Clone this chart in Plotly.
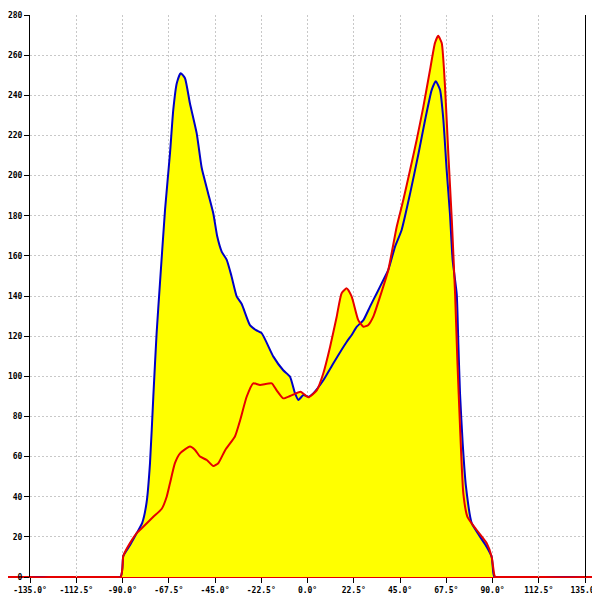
import plotly.graph_objects as go

# ---- data ----
blue_angle = [-135, -91, -89.6, -86.3, -83, -80.4, -78.3, -76.6, -75, -73.4, -71.8, -69.3, -66.9,
              -65.3, -63.6, -61.7, -59.6, -57.2, -53.9, -51.5, -48.3, -45.8, -43.9, -41.7, -39.3,
              -37, -34.4, -32, -28, -25, -22.3, -16.6, -11.8, -8.5, -6.1, -4.4, -2, 0.4, 2.8,
              7.7, 12.6, 19.1, 21.5, 24, 27.2, 30.4, 33.7, 36.9, 39.3, 42.6, 45.8, 49.9, 54,
              57.2, 60.4, 62.4, 64.5, 66.1, 67.7, 69.3, 70.6, 72.6, 73.4, 74.2, 75.5, 77.1,
              79.9, 84, 87.2, 89.6, 90.4, 91, 135]
blue_value = [0, 0, 10.5, 16, 22, 27, 37, 57, 90, 121.6, 146, 183, 211,
              232.7, 246, 251, 248.5, 236, 221, 204, 191, 181, 169.6, 162, 158,
              150, 139.7, 136, 125.5, 123, 121.5, 109.8, 103, 99.8, 91.6, 88.2, 90.7, 89.8, 91.5,
              98, 106.5, 117.2, 120.6, 124.7, 128, 134.7, 141.4, 148, 153, 164.6, 172.9, 191, 211,
              227.7, 242.6, 247, 242.6, 227.7, 202.8, 181, 158, 141, 116, 91.5, 66.6, 45,
              26.8, 20, 15, 10, 2, 0, 0]

red_angle = [-135, -91, -89.6, -86.3, -83, -79.9, -75, -70.9, -68.5, -66.9, -64.5, -62, -57.2,
             -54.7, -52.3, -49, -45.8, -43.4, -40, -35.3, -32.8, -29.6, -26.4, -23.1, -17.4,
             -15, -11.8, -8.5, -3.4, -1.8, 0.4, 4.5, 7.7, 11, 14.2, 16.6, 19.1, 21.5, 24.7,
             27.2, 29.6, 32, 35.3, 39.3, 43.4, 46.6, 49.9, 53.1, 56.3, 59.6, 62, 63.6, 65.3,
             66.9, 68.5, 70.2, 71.8, 72.9, 74.2, 75.8, 77.8, 82.3, 87.2, 89.6, 90.9, 91.5, 135]
red_value = [0, 0, 10.5, 17, 22, 25, 30, 34, 40, 46.7, 56.7, 61.6, 65,
             63.3, 60, 58.3, 55.3, 56.7, 63.3, 70, 78, 89.8, 96.5, 95.7, 96.5,
             93, 89, 90.2, 92.3, 91.2, 89.5, 93, 101.5, 114.7, 129.7, 141.4, 143.8, 139.7, 128,
             124.7, 125.6, 129.7, 139.7, 153, 174.5, 187.8, 202.8, 217.7, 234, 252.6, 266, 269.6, 266,
             244.3, 211, 178, 141, 108, 75, 41.7, 30, 23.4, 16.8, 10, 1, 0, 0]

x_tick_values = [-135, -112.5, -90, -67.5, -45, -22.5, 0, 22.5, 45, 67.5, 90, 112.5, 135]
x_tick_labels = ["-135.0°", "-112.5°", "-90.0°", "-67.5°", "-45.0°", "-22.5°", "0.0°",
                 "22.5°", "45.0°", "67.5°", "90.0°", "112.5°", "135.0°"]
y_tick_values = list(range(0, 281, 20))
y_tick_labels = [str(v) for v in y_tick_values]

YELLOW = "#ffff00"
BLUE = "#0000c8"
RED = "#e60000"

fig = go.Figure()
# yellow fills under both curves
fig.add_trace(go.Scatter(x=blue_angle, y=blue_value, mode="lines", fill="tozeroy",
                         fillcolor=YELLOW, line=dict(width=0, color=YELLOW, shape="spline", smoothing=0.5),
                         hoverinfo="skip"))
fig.add_trace(go.Scatter(x=red_angle, y=red_value, mode="lines", fill="tozeroy",
                         fillcolor=YELLOW, line=dict(width=0, color=YELLOW, shape="spline", smoothing=0.5),
                         hoverinfo="skip"))
# outlines
fig.add_trace(go.Scatter(x=blue_angle, y=blue_value, mode="lines",
                         line=dict(width=2, color=BLUE, shape="spline", smoothing=0.5)))
fig.add_trace(go.Scatter(x=red_angle, y=red_value, mode="lines",
                         line=dict(width=2, color=RED, shape="spline", smoothing=0.5)))

# baseline of the red series continuing past the axes
fig.add_shape(type="line", xref="paper", yref="paper", x0=-22 / 555, x1=1 + 15 / 555,
              y0=0, y1=0, line=dict(color=RED, width=2), layer="below")

tick_font = dict(family="DejaVu Sans Mono", size=8, color="black", weight="bold")

# the page body adds an 8px offset, so the figure is 592x592
fig.update_layout(
    width=592, height=592,
    margin=dict(l=22, r=15, t=7, b=23, autoexpand=False),
    paper_bgcolor="white", plot_bgcolor="white",
    showlegend=False,
    xaxis=dict(range=[-135, 135], tickmode="array", tickvals=x_tick_values,
               ticktext=x_tick_labels, ticks="outside", ticklen=5, tickcolor="black",
               tickwidth=1, showline=False, zeroline=False, automargin=False,
               showgrid=True, gridcolor="#c8c8c8", griddash="2px,2px", gridwidth=1,
               tickfont=tick_font),
    yaxis=dict(range=[0, 280], tickmode="array", tickvals=y_tick_values,
               ticktext=y_tick_labels, ticks="outside", ticklen=5, tickcolor="black",
               tickwidth=1, showline=True, linecolor="black", linewidth=1, mirror=True,
               zeroline=False, automargin=False, showgrid=True, gridcolor="#c8c8c8",
               griddash="2px,2px", gridwidth=1, tickfont=tick_font),
)

fig.write_html("out.html")
